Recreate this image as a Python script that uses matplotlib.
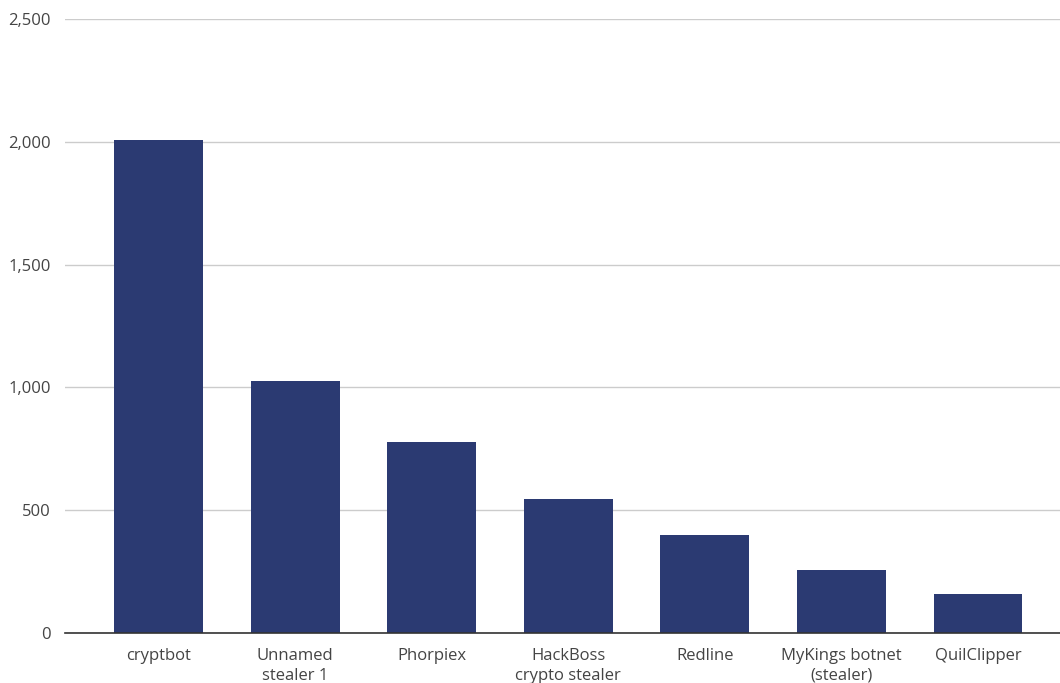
import matplotlib
matplotlib.use("Agg")
import matplotlib.pyplot as plt
from matplotlib.ticker import FuncFormatter

categories = ["cryptbot", "Unnamed\nstealer 1", "Phorpiex", "HackBoss\ncrypto stealer",
              "Redline", "MyKings botnet\n(stealer)", "QuilClipper"]
values = [2008, 1026, 776, 547, 400, 257, 160]
yticks = [0, 500, 1000, 1500, 2000, 2500]

plt.rcParams['font.family'] = ['Open Sans', 'DejaVu Sans']

fig = plt.figure(figsize=(10.6, 6.83), dpi=100)
ax = fig.add_axes([65/1060, 1-633/683, 1-65/1060, (633-19)/683])

ax.bar(range(len(categories)), values, width=0.65, color="#2b3a72", zorder=3)
ax.set_xlim(-0.685, 6.6)
ax.set_ylim(0, 2500)
ax.set_yticks(yticks)
ax.yaxis.set_major_formatter(FuncFormatter(lambda v, p: f"{int(v):,}"))
ax.set_xticks(range(len(categories)))
ax.set_xticklabels(categories, fontsize=12, color="#444444", linespacing=1.3)
ax.tick_params(axis='y', labelsize=12, labelcolor="#444444", length=0, pad=10)
ax.tick_params(axis='x', length=0, pad=11)
ax.grid(axis='y', color="#cccccc", linewidth=1, zorder=0)
for s in ["top", "right", "left"]:
    ax.spines[s].set_visible(False)
ax.spines["bottom"].set_color("#333333")
ax.spines["bottom"].set_linewidth(1.2)
ax.spines["bottom"].set_zorder(4)

fig.savefig("out.png", dpi=100)
